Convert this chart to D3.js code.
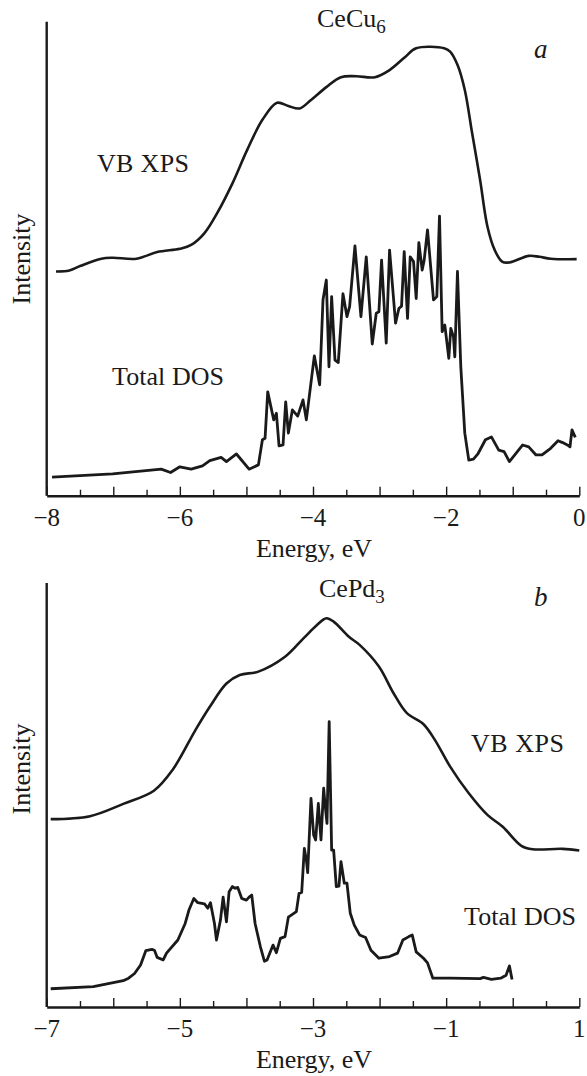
<!DOCTYPE html>
<html>
<head>
<meta charset="utf-8">
<script src="https://cdn.jsdelivr.net/npm/d3@7"></script>
<style>
  html, body { margin: 0; padding: 0; background: #fff; }
  svg text { font-family: "Liberation Serif", "Times New Roman", serif; fill: #1a1a1a; }
</style>
</head>
<body>
<svg id="chart" width="587" height="1076"></svg>
<script>
// ---------- Panel a: CeCu6 ----------
const cecu6XpsE = [-7.86,-7.66,-7.49,-7.18,-7.01,-6.65,-6.34,-6.0,-5.83,-5.63,-5.44,-5.21,-4.99,-4.76,-4.54,-4.37,-4.2,-4.03,-3.8,-3.58,-3.35,-3.07,-2.85,-2.62,-2.45,-2.03,-1.94,-1.83,-1.72,-1.61,-1.49,-1.38,-1.27,-1.16,-1.05,-0.76,-0.6,-0.43,-0.04];
const cecu6XpsI = [47.3,47.5,48.5,50.0,50.2,50.0,51.4,52.1,52.9,55.4,59.6,65.9,72.9,79.3,82.9,82.2,81.7,83.5,86.2,88.3,88.5,88.3,89.8,92.5,94.4,94.4,93.7,90.9,85.6,76.5,66.6,56.8,51.8,49.4,49.2,50.6,50.4,50.0,49.9];

const cecu6DosE = [-7.92,-7.01,-6.28,-6.14,-6.0,-5.83,-5.66,-5.55,-5.38,-5.3,-5.15,-4.96,-4.82,-4.76,-4.72,-4.68,-4.59,-4.55,-4.51,-4.45,-4.41,-4.37,-4.31,-4.23,-4.15,-4.1,-3.98,-3.9,-3.85,-3.8,-3.76,-3.72,-3.67,-3.62,-3.55,-3.49,-3.45,-3.37,-3.28,-3.2,-3.11,-3.05,-3.01,-2.97,-2.9,-2.85,-2.76,-2.71,-2.67,-2.63,-2.58,-2.54,-2.49,-2.45,-2.41,-2.36,-2.33,-2.28,-2.19,-2.14,-2.1,-2.06,-2.02,-1.96,-1.93,-1.89,-1.87,-1.83,-1.78,-1.72,-1.66,-1.59,-1.52,-1.41,-1.32,-1.21,-1.13,-1.05,-0.85,-0.76,-0.65,-0.56,-0.43,-0.32,-0.25,-0.18,-0.14,-0.11,-0.06];
const cecu6DosI = [3.9,4.6,5.6,4.9,6.1,5.6,6.3,7.4,8.1,7.2,8.8,5.6,6.5,11.8,12.1,21.9,16.0,17.4,10.5,10.7,19.8,13.2,18.1,16.8,20.2,16.0,29.5,23.4,41.3,45.5,27.2,42.0,28.6,28.1,42.6,37.8,39.9,52.7,37.8,50.4,32.0,38.5,38.8,49.7,32.2,51.8,36.4,39.5,40.0,51.5,37.4,50.4,49.4,41.6,53.4,47.6,49.7,56.1,41.3,42.0,59.0,34.6,36.0,29.0,35.3,33.5,29.3,47.3,27.2,13.2,7.5,7.7,8.9,11.8,12.4,9.6,9.3,7.2,10.7,10.3,8.6,8.6,10.0,11.6,11.2,10.7,10.3,13.9,12.3];

const cecu6TickValues = [-8,-7.5,-7,-6.5,-6,-5.5,-5,-4.5,-4,-3.5,-3,-2.5,-2,-1.5,-1,-0.5,0];
const cecu6TickLabels = ["−8","−6","−4","−2","0"];
const cecu6LabelValues = [-8,-6,-4,-2,0];

// ---------- Panel b: CePd3 ----------
const cepd3XpsE = [-6.94,-6.35,-5.85,-5.39,-5.11,-4.77,-4.55,-4.30,-4.1,-3.82,-3.42,-3.14,-2.94,-2.80,-2.69,-2.46,-2.30,-2.01,-1.79,-1.59,-1.34,-1.17,-0.94,-0.66,-0.38,-0.15,0.13,0.30,0.75,1.0];
const cepd3XpsI = [44.3,45.0,47.9,51.0,55.9,65.2,70.8,76.3,78.3,79.1,82.6,87.0,90.1,91.7,90.9,87.3,85.4,80.3,74.0,69.3,66.7,63.0,56.7,50.4,45.3,42.5,38.0,37.2,37.3,36.9];

const cepd3DosE = [-6.94,-6.3,-5.85,-5.77,-5.68,-5.59,-5.51,-5.42,-5.38,-5.34,-5.25,-5.2,-5.03,-4.92,-4.86,-4.79,-4.73,-4.63,-4.58,-4.54,-4.48,-4.45,-4.39,-4.35,-4.3,-4.26,-4.21,-4.17,-4.13,-4.07,-4.0,-3.96,-3.92,-3.87,-3.79,-3.73,-3.69,-3.6,-3.55,-3.49,-3.42,-3.37,-3.25,-3.21,-3.17,-3.13,-3.1,-3.08,-3.03,-2.99,-2.96,-2.92,-2.88,-2.84,-2.82,-2.79,-2.757,-2.72,-2.69,-2.65,-2.61,-2.58,-2.53,-2.49,-2.44,-2.38,-2.3,-2.21,-2.13,-2.01,-1.85,-1.73,-1.65,-1.56,-1.51,-1.45,-1.34,-1.28,-1.2,-0.94,-0.49,-0.44,-0.32,-0.18,-0.1,-0.05,-0.01];
const cepd3DosI = [4.3,4.8,6.2,6.8,7.9,9.9,13.3,13.6,13.3,11.7,11.1,12.7,15.8,19.7,23.0,25.6,24.6,24.3,23.3,24.6,19.7,15.8,20.5,25.9,20.1,27.2,28.4,28.0,28.2,25.6,25.2,25.9,26.4,19.7,14.2,10.8,11.1,14.6,12.8,16.2,16.6,21.2,22.5,26.8,27.0,37.4,34.7,31.7,49.2,40.5,39.4,48.0,39.4,51.6,48.0,43.3,67.3,37.0,37.0,28.4,28.5,34.3,29.2,29.2,22.1,19.3,17.0,16.4,13.4,11.5,11.9,12.7,15.8,16.6,17.0,13.0,11.5,10.4,6.8,6.8,6.7,7.0,6.5,6.8,7.5,9.7,6.5];

const cepd3TickValues = [-7,-6.5,-6,-5.5,-5,-4.5,-4,-3.5,-3,-2.5,-2,-1.5,-1,-0.5,0,0.5,1];
const cepd3TickLabels = ["−7","−5","−3","−1","1"];
const cepd3LabelValues = [-7,-5,-3,-1,1];

const svg = d3.select("#chart");
const ink = "#1a1a1a";

function zip(es, is) { return es.map((e, i) => ({e: e, v: is[i]})); }

function panel(cfg) {
  const x = d3.scaleLinear().domain(cfg.xDomain).range([46.7, 579.3]);
  const y = d3.scaleLinear().domain([0, 100]).range([cfg.bottom, cfg.top]);
  const g = svg.append("g");

  // y axis line (no ticks)
  g.append("line").attr("x1", x(cfg.xDomain[0])).attr("x2", x(cfg.xDomain[0]))
    .attr("y1", y(100)).attr("y2", y(0))
    .attr("stroke", ink).attr("stroke-width", 2.4);

  // x axis with inward ticks
  const ax = g.append("g").attr("transform", `translate(0,${y(0)})`)
    .call(d3.axisBottom(x).tickValues(cfg.ticks).tickSize(0).tickFormat(""));
  ax.select(".domain").attr("stroke", ink).attr("stroke-width", 2.4);
  ax.selectAll(".tick line")
    .attr("stroke", ink).attr("stroke-width", 1.4)
    .attr("y2", d => Number.isInteger(d) ? -9 : -6);

  // tick labels
  g.selectAll("text.tl").data(cfg.labelValues).join("text")
    .attr("class", "tl")
    .attr("x", d => x(d)).attr("y", cfg.bottom + 30)
    .attr("text-anchor", "middle").attr("font-size", 25)
    .text((d, i) => cfg.labels[i]);

  // axis title
  g.append("text").attr("x", 314).attr("y", cfg.bottom + 61)
    .attr("text-anchor", "middle").attr("font-size", 26).text("Energy, eV");

  g.append("text")
    .attr("transform", `translate(30,${cfg.intensityY}) rotate(-90)`)
    .attr("text-anchor", "middle").attr("font-size", 26).text("Intensity");

  const lineSmooth = d3.line().x(d => x(d.e)).y(d => y(d.v)).curve(d3.curveCatmullRom.alpha(0.5));
  const lineRaw = d3.line().x(d => x(d.e)).y(d => y(d.v)).curve(d3.curveLinear);

  g.append("path").datum(zip(cfg.xpsE, cfg.xpsI)).attr("d", lineSmooth)
    .attr("fill", "none").attr("stroke", ink).attr("stroke-width", 2.6)
    .attr("stroke-linejoin", "round");
  g.append("path").datum(zip(cfg.dosE, cfg.dosI)).attr("d", lineRaw)
    .attr("fill", "none").attr("stroke", ink).attr("stroke-width", 2.8)
    .attr("stroke-linejoin", "round");

  // title with subscript
  const t = g.append("text").attr("x", cfg.titleX).attr("y", cfg.titleY)
    .attr("font-size", 26);
  t.append("tspan").text(cfg.title);
  t.append("tspan").attr("font-size", 19).attr("dy", 6).text(cfg.sub);

  g.append("text").attr("x", 534).attr("y", cfg.letterY)
    .attr("font-size", 27).attr("font-style", "italic").text(cfg.letter);

  g.append("text").attr("x", cfg.xpsLabel[0]).attr("y", cfg.xpsLabel[1])
    .attr("font-size", 26).attr("textLength", cfg.xpsLabel[2]).text("VB XPS");
  g.append("text").attr("x", cfg.dosLabel[0]).attr("y", cfg.dosLabel[1])
    .attr("font-size", 26).attr("textLength", cfg.dosLabel[2]).text("Total DOS");
}

panel({
  xDomain: [-8, 0], top: 21.7, bottom: 495.7,
  ticks: cecu6TickValues, labels: cecu6TickLabels, labelValues: cecu6LabelValues,
  xpsE: cecu6XpsE, xpsI: cecu6XpsI, dosE: cecu6DosE, dosI: cecu6DosI,
  title: "CeCu", sub: "6", titleX: 317, titleY: 27,
  letter: "a", letterY: 58,
  xpsLabel: [97, 172, 92], dosLabel: [112, 385, 112], intensityY: 259
});

panel({
  xDomain: [-7, 1], top: 583, bottom: 1007,
  ticks: cepd3TickValues, labels: cepd3TickLabels, labelValues: cepd3LabelValues,
  xpsE: cepd3XpsE, xpsI: cepd3XpsI, dosE: cepd3DosE, dosI: cepd3DosI,
  title: "CePd", sub: "3", titleX: 319, titleY: 597,
  letter: "b", letterY: 606,
  xpsLabel: [471, 752, 93], dosLabel: [464, 925, 112], intensityY: 769
});
</script>
</body>
</html>
